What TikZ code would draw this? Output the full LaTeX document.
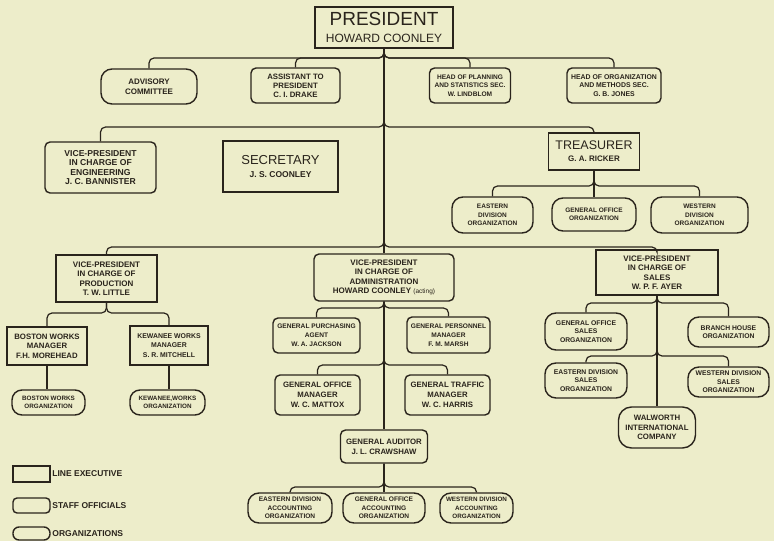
\documentclass[tikz,border=0pt]{standalone}
\usepackage{fontspec}
\setmainfont{Liberation Sans}
\newcommand\fz[2]{\fontsize{#1}{#2}\selectfont}
\definecolor{ink}{HTML}{2A241C}
\definecolor{paper}{HTML}{EDEDCA}
\tikzset{
  box/.style={draw=ink, line width=1.4pt, text=ink, align=center, inner sep=1pt, font=\bfseries\fz{8}{9.5}},
  lexec/.style={box, rectangle},
  staff/.style={box, rounded corners=5pt},
  orgn/.style={box, rounded corners=11pt},
  conn/.style={draw=ink, line width=1.2pt, rounded corners=5pt},
  trunk/.style={draw=ink, line width=1.2pt},
  lbl/.style={anchor=west, inner sep=1.5pt, text=ink, font=\bfseries\fz{8.5}{9}},
}
\begin{document}
\begin{tikzpicture}[x=1pt, y=-1pt]
\fill[paper] (0,0) rectangle (774,541);
\useasboundingbox (0,0) rectangle (774,541);

% president
\node[lexec, minimum width=138, minimum height=41, font=\fz{19}{17}] (pres) at (384,27.5) {PRESIDENT\\{\fz{12}{13}HOWARD COONLEY}};

% staff row
\node[orgn, minimum width=96, minimum height=35, font=\bfseries\fz{8}{10}] (adv) at (149,86.5) {ADVISORY\\COMMITTEE};
\node[staff, minimum width=89, minimum height=35, font=\bfseries\fz{7.8}{9}] (asst) at (295.5,85.5) {ASSISTANT TO\\PRESIDENT\\C. I. DRAKE};
\node[staff, minimum width=81, minimum height=35, font=\bfseries\fz{6.6}{8.5}] (plan) at (470,85.5) {HEAD OF PLANNING\\AND STATISTICS SEC.\\W. LINDBLOM};
\node[staff, minimum width=94, minimum height=35, font=\bfseries\fz{6.9}{8.5}] (orgm) at (614,85.5) {HEAD OF ORGANIZATION\\AND METHODS SEC.\\G. B. JONES};

% second row
\node[staff, minimum width=111, minimum height=51, font=\bfseries\fz{8.6}{9.6}] (vpeng) at (100.5,167.5) {VICE-PRESIDENT\\IN CHARGE OF\\ENGINEERING\\J. C. BANNISTER};
\node[lexec, minimum width=115, minimum height=51, font=\fz{13}{13}] (sec) at (280.5,166.5) {SECRETARY\\{\bfseries\fz{8.5}{10}J. S. COONLEY}};
\node[lexec, minimum width=91, minimum height=37, font=\fz{12.5}{12}] (treas) at (594,151.5) {TREASURER\\{\bfseries\fz{8}{10}G. A. RICKER}};

\node[orgn, minimum width=81, minimum height=36, font=\bfseries\fz{6.5}{8.5}] (eastdiv) at (492.5,215) {EASTERN\\DIVISION\\ORGANIZATION};
\node[orgn, minimum width=84, minimum height=33, font=\bfseries\fz{6.5}{8.5}] (goorg) at (594,214.5) {GENERAL OFFICE\\ORGANIZATION};
\node[orgn, minimum width=97, minimum height=36, font=\bfseries\fz{6.5}{8.5}] (westdiv) at (699.5,215) {WESTERN\\DIVISION\\ORGANIZATION};

% vice presidents
\node[lexec, minimum width=101, minimum height=47] (vpprod) at (106.5,278.5) {VICE-PRESIDENT\\IN CHARGE OF\\PRODUCTION\\T. W. LITTLE};
\node[staff, minimum width=140, minimum height=47] (vpadmin) at (384,277.5) {VICE-PRESIDENT\\IN CHARGE OF\\ADMINISTRATION\\HOWARD COONLEY {\mdseries\fz{6.5}{7}(acting)}};
\node[lexec, minimum width=122, minimum height=45] (vpsales) at (657,272.5) {VICE-PRESIDENT\\IN CHARGE OF\\SALES\\W. P. F. AYER};

% production
\node[lexec, minimum width=80, minimum height=38, font=\bfseries\fz{7.8}{9.5}] (boston) at (47,346) {BOSTON WORKS\\MANAGER\\F.H. MOREHEAD};
\node[lexec, minimum width=78, minimum height=39, font=\bfseries\fz{6.9}{9.5}] (kewanee) at (169,345.5) {KEWANEE WORKS\\MANAGER\\S. R. MITCHELL};
\node[orgn, minimum width=73, minimum height=25, rounded corners=10pt, font=\bfseries\fz{6.3}{8}] (bostonorg) at (48.5,402.5) {BOSTON WORKS\\ORGANIZATION};
\node[orgn, minimum width=75, minimum height=25, rounded corners=10pt, font=\bfseries\fz{6.3}{8}] (kewaneeorg) at (167.5,402.5) {KEWANEE,WORKS\\ORGANIZATION};

% administration
\node[staff, minimum width=87, minimum height=35, font=\bfseries\fz{6.6}{9}] (purch) at (316.5,335.5) {GENERAL PURCHASING\\AGENT\\W. A. JACKSON};
\node[staff, minimum width=83, minimum height=36, font=\bfseries\fz{6.6}{9}] (pers) at (448.5,335) {GENERAL PERSONNEL\\MANAGER\\F. M. MARSH};
\node[staff, minimum width=85, minimum height=40, font=\bfseries\fz{7.8}{10}] (offmgr) at (317.5,395) {GENERAL OFFICE\\MANAGER\\W. C. MATTOX};
\node[staff, minimum width=85, minimum height=40, font=\bfseries\fz{7.8}{10}] (traffic) at (447.5,395) {GENERAL TRAFFIC\\MANAGER\\W. C. HARRIS};
\node[staff, minimum width=87, minimum height=33, font=\bfseries\fz{7.8}{10}] (auditor) at (384,446.5) {GENERAL AUDITOR\\J. L. CRAWSHAW};
\node[orgn, minimum width=84, minimum height=30, font=\bfseries\fz{6.6}{8.5}] (eacc) at (290,508) {EASTERN DIVISION\\ACCOUNTING\\ORGANIZATION};
\node[orgn, minimum width=82, minimum height=30, font=\bfseries\fz{6.6}{8.5}] (gacc) at (384,508) {GENERAL OFFICE\\ACCOUNTING\\ORGANIZATION};
\node[orgn, minimum width=73, minimum height=30, font=\bfseries\fz{6.3}{8.5}] (wacc) at (476.5,508) {WESTERN DIVISION\\ACCOUNTING\\ORGANIZATION};

% sales
\node[orgn, minimum width=82, minimum height=37, font=\bfseries\fz{6.8}{8.5}] (gosales) at (586,331.5) {GENERAL OFFICE\\SALES\\ORGANIZATION};
\node[orgn, minimum width=81, minimum height=30, font=\bfseries\fz{6.8}{8.5}] (branch) at (728.5,332) {BRANCH HOUSE\\ORGANIZATION};
\node[orgn, minimum width=82, minimum height=35, font=\bfseries\fz{6.8}{8.5}] (eastsales) at (586,380.5) {EASTERN DIVISION\\SALES\\ORGANIZATION};
\node[orgn, minimum width=81, minimum height=30, font=\bfseries\fz{6.8}{8.5}] (westsales) at (728.5,382) {WESTERN DIVISION\\SALES\\ORGANIZATION};
\node[orgn, minimum width=77, minimum height=41, rounded corners=13pt, font=\bfseries\fz{7.8}{9.5}] (walworth) at (657,427.5) {WALWORTH\\INTERNATIONAL\\COMPANY};

% bus levels
\coordinate (b1) at (384,58);
\coordinate (b2) at (384,127);
\coordinate (b3) at (384,247);
\coordinate (bt) at (594,186);
\coordinate (bp) at (106.5,313);
\coordinate (ba1) at (384,308);
\coordinate (ba2) at (384,365);
\coordinate (bacc) at (384,487);
\coordinate (bs1) at (657,303);
\coordinate (bs2) at (657,356);

% connectors
\draw[trunk] (pres.south) -- (vpadmin.north);
\foreach \c in {adv,asst,plan,orgm}
  \draw[conn] (pres.south) -- (pres.south |- b1) -| (\c.north);
\foreach \c in {vpeng,treas}
  \draw[conn] (pres.south) -- (pres.south |- b2) -| (\c.north);
\foreach \c in {vpprod,vpsales}
  \draw[conn] (pres.south) -- (pres.south |- b3) -| (\c.north);

\draw[trunk] (treas.south) -- (goorg.north);
\foreach \c in {eastdiv,westdiv}
  \draw[conn] (treas.south) -- (treas.south |- bt) -| (\c.north);

\foreach \c in {boston,kewanee}
  \draw[conn] (vpprod.south) -- (vpprod.south |- bp) -| (\c.north);
\draw[trunk] (boston.south) -- (boston.south |- bostonorg.north);
\draw[trunk] (kewanee.south) -- (kewanee.south |- kewaneeorg.north);

\draw[trunk] (vpadmin.south) -- (auditor.north);
\foreach \c in {purch,pers}
  \draw[conn] (vpadmin.south) -- (vpadmin.south |- ba1) -| (\c.north);
\foreach \c in {offmgr,traffic}
  \draw[conn] (vpadmin.south) -- (vpadmin.south |- ba2) -| (\c.north);
\draw[trunk] (auditor.south) -- (gacc.north);
\foreach \c in {eacc,wacc}
  \draw[conn] (auditor.south) -- (auditor.south |- bacc) -| (\c.north);

\draw[trunk] (vpsales.south) -- (walworth.north);
\foreach \c in {gosales,branch}
  \draw[conn] (vpsales.south) -- (vpsales.south |- bs1) -| (\c.north);
\foreach \c in {eastsales,westsales}
  \draw[conn] (vpsales.south) -- (vpsales.south |- bs2) -| (\c.north);

% legend
\node[lexec, minimum width=37, minimum height=16] (lgl) at (31.5,474) {};
\node[staff, minimum width=37, minimum height=15, rounded corners=4pt] (lgs) at (31.5,505.5) {};
\node[orgn, minimum width=37, minimum height=13, rounded corners=6pt] (lgo) at (31.5,533.5) {};
\node[lbl] (lgltxt) at (lgl.east) {LINE EXECUTIVE};
\node[lbl] (lgstxt) at (lgs.east) {STAFF OFFICIALS};
\node[lbl] (lgotxt) at (lgo.east) {ORGANIZATIONS};
\end{tikzpicture}
\end{document}
